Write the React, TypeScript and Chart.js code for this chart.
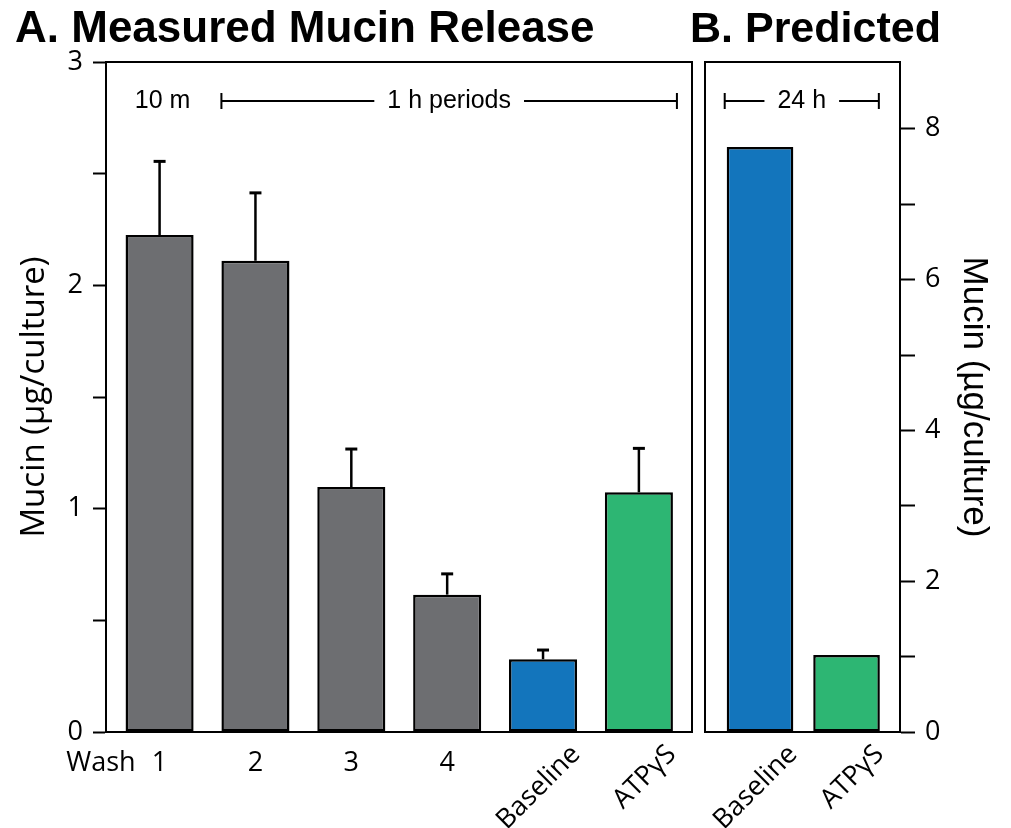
import React, { useEffect, useRef } from "react";
import { Chart, registerables } from "chart.js";

Chart.register(...registerables);

// ---------- data ----------
const measuredLabels = ["1", "2", "3", "4", "Baseline", "ATPγS"];
const measuredMucin = [2.225, 2.11, 1.097, 0.615, 0.326, 1.073];
const measuredError = [0.33, 0.304, 0.17, 0.093, 0.041, 0.197];
const predictedLabels = ["Baseline", "ATPγS"];
const predictedMucin = [7.76, 1.02];

const GRAY = "#6d6e71";
const BLUE = "#1375bc";
const GREEN = "#2db673";
const measuredColors = [GRAY, GRAY, GRAY, GRAY, BLUE, GREEN];
const predictedColors = [BLUE, GREEN];

const W = 1011;
const H = 828;
const LABEL_FONT = "'Open Sans', 'Noto Sans', sans-serif";
const NOTE_FONT = "'Liberation Sans', Arial, sans-serif";

// ---------- plugins ----------
const boxPlugin = {
  id: "box",
  afterDraw(chart: any) {
    const { ctx, chartArea: a } = chart;
    ctx.save();
    ctx.strokeStyle = "#000";
    ctx.lineWidth = 2;
    ctx.strokeRect(a.left, a.top, a.right - a.left, a.bottom - a.top);
    ctx.restore();
  },
};

function makeXLabelPlugin(labels: string[], withWash: boolean) {
  return {
    id: "xlabels",
    afterDraw(chart: any) {
      const { ctx, chartArea: a } = chart;
      const xs = chart.scales.x;
      ctx.save();
      ctx.fillStyle = "#000";
      ctx.font = `27px ${LABEL_FONT}`;
      labels.forEach((lab, i) => {
        const px = xs.getPixelForValue(i);
        if (/^\d+$/.test(lab)) {
          ctx.textAlign = "center";
          ctx.textBaseline = "middle";
          ctx.fillText(lab, px, a.bottom + 31);
        } else {
          ctx.save();
          ctx.translate(px + 33, a.bottom + 18);
          ctx.rotate(-Math.PI / 4);
          ctx.textAlign = "right";
          ctx.textBaseline = "middle";
          ctx.fillText(lab, 0, 0);
          ctx.restore();
        }
      });
      if (withWash) {
        const px0 = xs.getPixelForValue(0);
        ctx.textAlign = "right";
        ctx.textBaseline = "middle";
        ctx.fillText("Wash", px0 - 24, a.bottom + 31);
      }
      ctx.restore();
    },
  };
}

const errorBarPlugin = {
  id: "errorbars",
  afterDatasetsDraw(chart: any) {
    const { ctx } = chart;
    const ys = chart.scales.y;
    const meta = chart.getDatasetMeta(0);
    ctx.save();
    ctx.strokeStyle = "#000";
    measuredMucin.forEach((v, i) => {
      const bar = meta.data[i];
      const yb = ys.getPixelForValue(v);
      const yt = ys.getPixelForValue(v + measuredError[i]);
      ctx.lineWidth = 2.5;
      ctx.beginPath();
      ctx.moveTo(bar.x, yb);
      ctx.lineTo(bar.x, yt);
      ctx.stroke();
      ctx.lineWidth = 3;
      ctx.beginPath();
      ctx.moveTo(bar.x - 6, yt);
      ctx.lineTo(bar.x + 6, yt);
      ctx.stroke();
    });
    ctx.restore();
  },
};

function drawBracket(ctx: any, x1: number, x2: number, y: number, text: string) {
  ctx.save();
  ctx.font = `25px ${NOTE_FONT}`;
  ctx.fillStyle = "#000";
  ctx.strokeStyle = "#000";
  ctx.lineWidth = 2;
  const mid = (x1 + x2) / 2;
  const tw = ctx.measureText(text).width;
  const gap = 13;
  ctx.beginPath();
  ctx.moveTo(x1, y);
  ctx.lineTo(mid - tw / 2 - gap, y);
  ctx.moveTo(mid + tw / 2 + gap, y);
  ctx.lineTo(x2, y);
  ctx.moveTo(x1, y - 8);
  ctx.lineTo(x1, y + 8);
  ctx.moveTo(x2, y - 8);
  ctx.lineTo(x2, y + 8);
  ctx.stroke();
  ctx.textAlign = "center";
  ctx.textBaseline = "middle";
  ctx.fillText(text, mid, y);
  ctx.restore();
}

const annotationsA = {
  id: "annotA",
  afterDraw(chart: any) {
    const { ctx } = chart;
    const meta = chart.getDatasetMeta(0);
    const b0 = meta.data[0];
    const b1 = meta.data[1];
    const b5 = meta.data[5];
    const y = 101;
    ctx.save();
    ctx.font = `25px ${NOTE_FONT}`;
    ctx.fillStyle = "#000";
    ctx.textAlign = "center";
    ctx.textBaseline = "middle";
    ctx.fillText("10 m", b0.x + 3, y);
    ctx.restore();
    drawBracket(ctx, b1.x - b1.width / 2, b5.x + b5.width / 2 + 4, y, "1 h periods");
    ctx.save();
    ctx.font = `bold 44px ${NOTE_FONT}`;
    ctx.fillStyle = "#000";
    ctx.textAlign = "left";
    ctx.textBaseline = "alphabetic";
    ctx.fillText("A. Measured Mucin Release", 15, 42);
    ctx.restore();
  },
};

const annotationsB = {
  id: "annotB",
  afterDraw(chart: any) {
    const { ctx } = chart;
    const meta = chart.getDatasetMeta(0);
    const b0 = meta.data[0];
    const b1 = meta.data[1];
    drawBracket(ctx, b0.x - b0.width / 2 - 2, b1.x + b1.width / 2 - 1, 101, "24 h");
    ctx.save();
    ctx.font = `bold 43px ${NOTE_FONT}`;
    ctx.fillStyle = "#000";
    ctx.textAlign = "left";
    ctx.textBaseline = "alphabetic";
    ctx.fillText("B. Predicted", 690, 42);
    ctx.restore();
  },
};

const integerTicksOnly = (s: any) => {
  s.ticks = s.ticks.filter((t: any) => Number.isInteger(t.value));
};

// ---------- configs ----------
function configA(): any {
  return {
    type: "bar",
    data: {
      datasets: [
        {
          data: measuredLabels.map((_, i) => ({ x: i, y: measuredMucin[i] })),
          backgroundColor: measuredColors,
          borderColor: "#000",
          borderWidth: 2.5,
          borderSkipped: false,
          barPercentage: 0.71,
          categoryPercentage: 1,
        },
      ],
    },
    options: {
      animation: false,
      responsive: false,
      maintainAspectRatio: false,
      layout: { padding: { left: 0, right: W - 692, top: 62, bottom: 0 } },
      plugins: { legend: { display: false }, tooltip: { enabled: false }, title: { display: false } },
      scales: {
        x: {
          type: "linear",
          offset: false,
          min: -0.559,
          max: 5.554,
          afterBuildTicks: integerTicksOnly,
          grid: { display: false },
          border: { display: true, color: "#000", width: 2 },
          ticks: { display: false, stepSize: 1 },
          afterFit: (s: any) => {
            s.height = H - 732;
          },
        },
        y: {
          min: 0,
          max: 3,
          ticks: {
            stepSize: 0.5,
            color: "#000",
            padding: 10,
            font: { family: LABEL_FONT, size: 27 },
            callback: (v: number) => (Number.isInteger(v) ? String(v) : ""),
          },
          grid: { drawOnChartArea: false, drawTicks: true, tickLength: 13, tickColor: "#000", tickWidth: 2 },
          border: { display: true, color: "#000", width: 2 },
          title: {
            display: true,
            text: "Mucin (µg/culture)",
            color: "#000",
            font: { family: LABEL_FONT, size: 33 },
            padding: { top: 15, bottom: 0 },
          },
          afterFit: (s: any) => {
            s.width = 106;
          },
        },
      },
    },
    plugins: [errorBarPlugin, boxPlugin, makeXLabelPlugin(measuredLabels, true), annotationsA],
  };
}

function configB(): any {
  return {
    type: "bar",
    data: {
      datasets: [
        {
          data: predictedLabels.map((_, i) => ({ x: i, y: predictedMucin[i] })),
          backgroundColor: predictedColors,
          borderColor: "#000",
          borderWidth: 2.5,
          borderSkipped: false,
          barPercentage: 0.77,
          categoryPercentage: 1,
        },
      ],
    },
    options: {
      animation: false,
      responsive: false,
      maintainAspectRatio: false,
      layout: { padding: { left: 705, right: 0, top: 62, bottom: 0 } },
      plugins: { legend: { display: false }, tooltip: { enabled: false }, title: { display: false } },
      scales: {
        x: {
          type: "linear",
          offset: false,
          min: -0.636,
          max: 1.618,
          afterBuildTicks: integerTicksOnly,
          grid: { display: false },
          border: { display: true, color: "#000", width: 2 },
          ticks: { display: false, stepSize: 1 },
          afterFit: (s: any) => {
            s.height = H - 732;
          },
        },
        y: {
          position: "right",
          min: 0,
          max: 8.886,
          afterBuildTicks: integerTicksOnly,
          ticks: {
            stepSize: 1,
            color: "#000",
            padding: 10,
            font: { family: LABEL_FONT, size: 27 },
            callback: (v: number) => (v % 2 === 0 ? String(v) : ""),
          },
          grid: { drawOnChartArea: false, drawTicks: true, tickLength: 15, tickColor: "#000", tickWidth: 2 },
          border: { display: true, color: "#000", width: 2 },
          title: {
            display: true,
            text: "Mucin (µg/culture)",
            color: "#000",
            font: { family: NOTE_FONT, size: 35 },
            padding: { top: 16, bottom: 0 },
          },
          afterFit: (s: any) => {
            s.width = W - 900;
          },
        },
      },
    },
    plugins: [boxPlugin, makeXLabelPlugin(predictedLabels, false), annotationsB],
  };
}

export default function App() {
  const refA = useRef<HTMLCanvasElement | null>(null);
  const refB = useRef<HTMLCanvasElement | null>(null);

  useEffect(() => {
    const a = new Chart(refA.current as HTMLCanvasElement, configA());
    const b = new Chart(refB.current as HTMLCanvasElement, configB());
    return () => {
      a.destroy();
      b.destroy();
    };
  }, []);

  const canvasStyle: React.CSSProperties = { position: "absolute", left: 0, top: 0, width: W, height: H };
  return (
    <div style={{ position: "absolute", left: 0, top: 0, width: W, height: H, background: "#fff" }}>
      <canvas ref={refA} width={W} height={H} style={canvasStyle} />
      <canvas ref={refB} width={W} height={H} style={canvasStyle} />
    </div>
  );
}
